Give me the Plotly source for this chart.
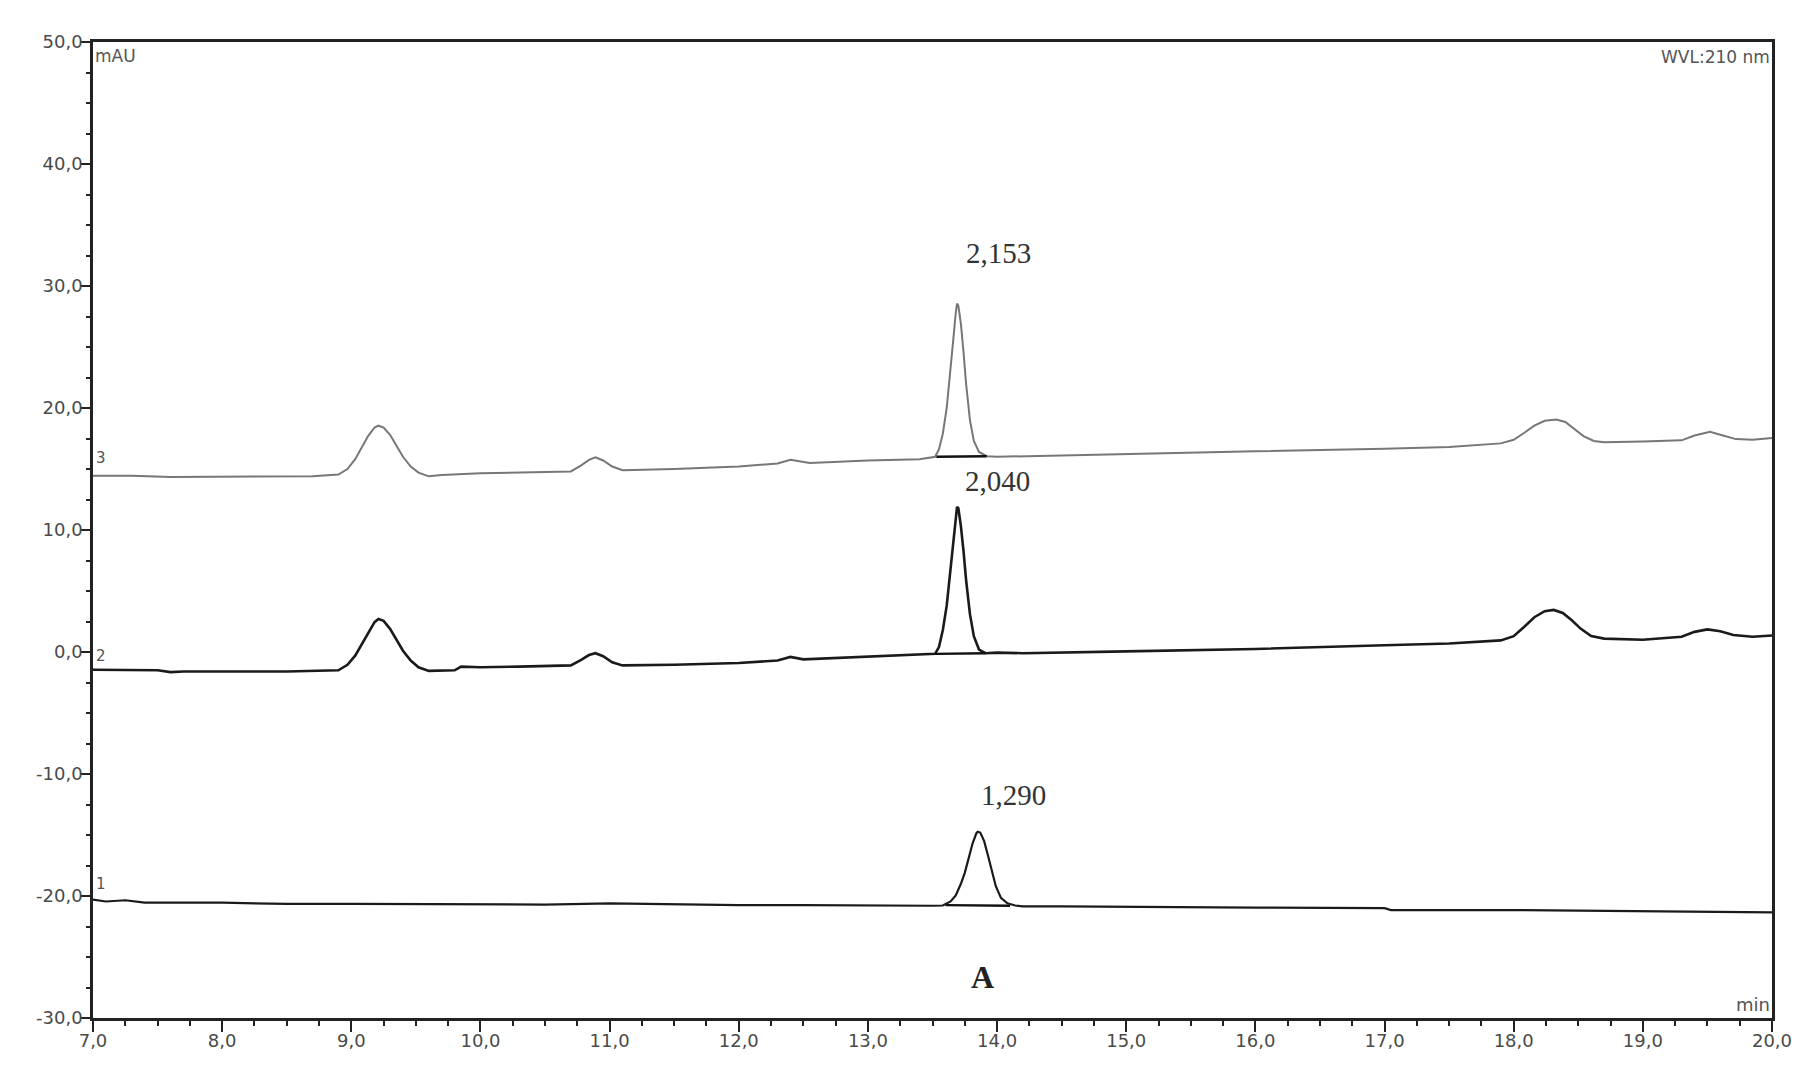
import plotly.graph_objects as go

# retention time (min) / absorbance (mAU)
t3 = [7.00, 7.30, 7.60, 8.00, 8.40, 8.70, 8.90, 8.97, 9.03, 9.08, 9.13, 9.18, 9.21, 9.25,
      9.30, 9.35, 9.40, 9.46, 9.52, 9.60, 9.70, 10.00, 10.30, 10.70, 10.78, 10.84, 10.89,
      10.95, 11.02, 11.10, 11.50, 12.00, 12.30, 12.40, 12.55, 13.00, 13.40, 13.52, 13.55,
      13.58, 13.61, 13.64, 13.66, 13.68, 13.69, 13.70, 13.72, 13.74, 13.76, 13.79, 13.82,
      13.86, 13.92, 14.00, 14.20, 15.00, 16.00, 17.00, 17.50, 17.90, 18.00, 18.08, 18.16,
      18.24, 18.33, 18.40, 18.47, 18.54, 18.62, 18.70, 19.00, 19.30, 19.40, 19.52, 19.62,
      19.72, 19.85, 20.00]
y3 = [14.45, 14.45, 14.35, 14.35, 14.40, 14.40, 14.55, 15.00, 15.80, 16.70, 17.70, 18.40,
      18.55, 18.40, 17.80, 16.90, 16.00, 15.20, 14.70, 14.40, 14.50, 14.65, 14.70, 14.80,
      15.30, 15.75, 15.95, 15.70, 15.20, 14.90, 15.00, 15.20, 15.45, 15.75, 15.50, 15.70,
      15.80, 16.00, 16.60, 17.90, 20.00, 23.00, 25.50, 27.80, 28.55, 28.40, 26.90, 24.60,
      22.00, 19.00, 17.30, 16.40, 16.05, 16.00, 16.05, 16.25, 16.45, 16.65, 16.80, 17.10,
      17.40, 17.95, 18.55, 18.95, 19.05, 18.85, 18.30, 17.70, 17.30, 17.20, 17.25, 17.35,
      17.75, 18.05, 17.75, 17.45, 17.40, 17.55]

t2 = [7.00, 7.50, 7.60, 7.70, 8.00, 8.50, 8.90, 8.97, 9.03, 9.08, 9.13, 9.18, 9.21, 9.25,
      9.30, 9.35, 9.40, 9.46, 9.52, 9.60, 9.80, 9.85, 10.00, 10.30, 10.70, 10.78, 10.84,
      10.89, 10.95, 11.02, 11.10, 11.50, 12.00, 12.30, 12.40, 12.50, 13.00, 13.52, 13.55,
      13.58, 13.61, 13.64, 13.66, 13.68, 13.69, 13.70, 13.72, 13.74, 13.76, 13.79, 13.82,
      13.86, 13.91, 14.00, 14.20, 15.00, 16.00, 17.00, 17.50, 17.90, 18.00, 18.08, 18.16,
      18.24, 18.31, 18.38, 18.45, 18.52, 18.60, 18.70, 19.00, 19.30, 19.40, 19.50, 19.60,
      19.70, 19.85, 20.00]
y2 = [-1.45, -1.50, -1.65, -1.60, -1.60, -1.60, -1.50, -1.05, -0.30, 0.60, 1.60, 2.45,
      2.70, 2.55, 1.90, 1.00, 0.10, -0.70, -1.25, -1.55, -1.50, -1.20, -1.25, -1.20, -1.10,
      -0.65, -0.25, -0.10, -0.35, -0.85, -1.10, -1.05, -0.90, -0.70, -0.40, -0.60, -0.40,
      -0.15, 0.40, 1.80, 3.80, 6.80, 9.20, 11.30, 11.90, 11.80, 10.30, 8.30, 5.90, 3.10,
      1.30, 0.20, -0.10, -0.05, -0.10, 0.05, 0.25, 0.55, 0.70, 0.95, 1.30, 2.05, 2.85, 3.35,
      3.45, 3.20, 2.60, 1.90, 1.30, 1.10, 1.00, 1.25, 1.65, 1.85, 1.70, 1.40, 1.25, 1.35]

t1 = [7.00, 7.10, 7.25, 7.40, 8.00, 8.50, 9.00, 10.00, 10.50, 11.00, 11.50, 12.00, 12.50,
      13.00, 13.50, 13.58, 13.64, 13.68, 13.72, 13.75, 13.78, 13.81, 13.84, 13.85, 13.87,
      13.90, 13.93, 13.96, 13.99, 14.03, 14.08, 14.14, 14.20, 14.50, 15.00, 16.00, 17.00,
      17.05, 18.00, 18.50, 19.00, 19.50, 20.00]
y1 = [-20.30, -20.45, -20.35, -20.55, -20.55, -20.65, -20.65, -20.65, -20.70, -20.60,
      -20.70, -20.75, -20.75, -20.80, -20.80, -20.78, -20.45, -19.95, -19.00, -18.10,
      -16.90, -15.70, -14.85, -14.73, -14.80, -15.50, -16.70, -18.00, -19.20, -20.15,
      -20.60, -20.78, -20.85, -20.85, -20.90, -20.95, -21.00, -21.15, -21.15, -21.20,
      -21.30, -21.30, -21.35]

# integration baselines drawn under the main peaks
base_t = [[13.53, 13.92], [13.52, 13.91], [13.60, 14.10]]
base_y = [[16.00, 16.05], [-0.15, -0.10], [-20.75, -20.80]]

peak_labels = ["2,153", "2,040", "1,290"]
peak_label_x = [14.01, 14.00, 14.13]
peak_label_y = [32.7, 14.0, -11.7]

x_ticks = list(range(7, 21))
y_ticks = list(range(-30, 51, 10))


def fmt(v):
    return f"{v:.1f}".replace(".", ",")


fig = go.Figure()
fig.add_trace(go.Scatter(x=t3, y=y3, mode="lines", line=dict(color="#777777", width=2)))
fig.add_trace(go.Scatter(x=t2, y=y2, mode="lines", line=dict(color="#1a1a1a", width=2.6)))
fig.add_trace(go.Scatter(x=t1, y=y1, mode="lines", line=dict(color="#1a1a1a", width=2.2)))
for bt, by in zip(base_t, base_y):
    fig.add_trace(go.Scatter(x=bt, y=by, mode="lines", line=dict(color="#111", width=2.4)))

for txt, px, py in zip(peak_labels, peak_label_x, peak_label_y):
    fig.add_annotation(x=px, y=py, text=txt, showarrow=False,
                       font=dict(family="Liberation Serif", size=29, color="#333"))
fig.add_annotation(x=13.89, y=-26.6, text="<b>A</b>", showarrow=False,
                   font=dict(family="Liberation Serif", size=32, color="#222"))

small = dict(family="DejaVu Sans", size=15, color="#555")
for lbl, ly in zip(["3", "2", "1"], [15.9, -0.3, -19.0]):
    fig.add_annotation(x=7.0, y=ly, text=lbl, showarrow=False, xanchor="left",
                       xshift=1, font=small)
fig.add_annotation(x=7.0, y=50, text="mAU", showarrow=False, xanchor="left", yanchor="top",
                   xshift=0, yshift=-2, font=dict(family="DejaVu Sans", size=17, color="#555"))
fig.add_annotation(x=20.0, y=50, text="WVL:210 nm", showarrow=False, xanchor="right",
                   yanchor="top", yshift=-3, font=dict(family="DejaVu Sans", size=17, color="#555"))
fig.add_annotation(x=20.0, y=-30, text="min", showarrow=False, xanchor="right",
                   yanchor="bottom", yshift=1, font=dict(family="DejaVu Sans", size=18, color="#555"))

axis_common = dict(
    showgrid=False, zeroline=False, showline=True, linecolor="#222", linewidth=2.5,
    mirror=True, ticks="outside", tickcolor="#222", tickwidth=2.2,
    tickfont=dict(family="DejaVu Sans", size=18, color="#4a4a4a"),
    ticklabelstandoff=-6,
)
fig.update_xaxes(range=[7, 20], tickvals=x_ticks, ticktext=[fmt(v) for v in x_ticks],
                 ticklen=11,
                 minor=dict(dtick=0.25, ticks="outside", ticklen=5, tickcolor="#222", tickwidth=2),
                 **axis_common)
fig.update_yaxes(range=[-30, 50], tickvals=y_ticks, ticktext=[fmt(v) for v in y_ticks],
                 ticklen=10,
                 minor=dict(dtick=2.5, ticks="outside", ticklen=4, tickcolor="#222", tickwidth=2),
                 **axis_common)

fig.update_layout(
    width=1810, height=1078,
    margin=dict(l=85, r=46, t=34, b=68),
    paper_bgcolor="white", plot_bgcolor="white",
    showlegend=False,
)
fig.write_html("out.html")
